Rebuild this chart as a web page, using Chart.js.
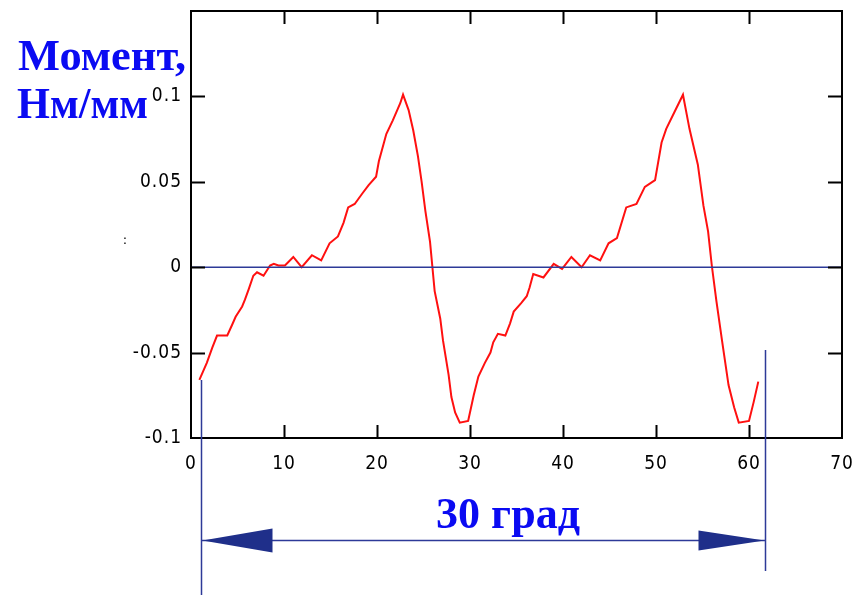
<!DOCTYPE html>
<html>
<head>
<meta charset="utf-8">
<script src="https://cdn.jsdelivr.net/npm/chart.js@4"></script>
<style>
	html, body { margin: 0; padding: 0; background: #fff; }
	#wrap { width: 859px; height: 595px; }
</style>
</head>
<body>
<div id="wrap"><canvas id="momentChart"></canvas></div>
<script>
// data block: angle (deg) and moment (Nm/mm)
const angles = [
	0.9, 1.7, 2.3, 2.8, 3.9, 4.4, 4.8, 5.5, 5.8, 6.2, 6.7, 7.1, 7.8, 8.5, 8.9, 9.4,
	10.1, 11.0, 11.9, 13.0, 14.0, 14.9, 15.8, 16.4, 16.9, 17.6, 18.4, 19.1, 19.9,
	20.2, 20.7, 21.0, 21.7, 22.5, 22.8, 23.4, 23.9, 24.4, 24.8, 25.2, 25.7, 26.2,
	26.8, 27.1, 27.7, 28.0, 28.4, 28.9, 29.8, 30.4, 30.9,
	31.6, 32.2, 32.5, 33.0, 33.8, 34.3, 34.7, 35.5, 36.1, 36.4, 36.8, 37.9, 39.0,
	39.9, 40.9, 42.0, 42.9, 44.0, 44.9, 45.8, 46.8, 47.9, 48.8, 49.9, 50.6, 51.1,
	52.0, 52.9, 53.6, 54.5, 55.1, 55.6, 56.0, 56.5, 57.1, 57.8, 58.4, 58.9, 60.0,
	60.5, 61.0,
];
const moments = [
	-0.066, -0.056, -0.047, -0.040, -0.040, -0.034, -0.029, -0.023, -0.019, -0.013,
	-0.005, -0.003, -0.005, 0.001, 0.002, 0.001,
	0.001, 0.006, 0.000, 0.007, 0.004, 0.014, 0.018, 0.026, 0.035, 0.037, 0.043,
	0.048, 0.053, 0.062, 0.072, 0.078, 0.086, 0.096, 0.101, 0.092, 0.080, 0.065,
	0.050, 0.033, 0.015, -0.014, -0.030, -0.043, -0.063, -0.076, -0.085, -0.091,
	-0.090, -0.075, -0.064,
	-0.056, -0.050, -0.044, -0.039, -0.040, -0.033, -0.026, -0.021, -0.017, -0.012,
	-0.004, -0.006, 0.002, -0.001, 0.006, 0.000, 0.007, 0.004, 0.014, 0.017, 0.035,
	0.037, 0.047, 0.051, 0.073, 0.081, 0.091, 0.101, 0.081, 0.060, 0.036, 0.021,
	0.001, -0.020, -0.043, -0.069, -0.082, -0.091, -0.090, -0.079, -0.067,
];
const zeroLineX = [0, 70];
const zeroLineY = [0, 0];
const xTicks = [0, 10, 20, 30, 40, 50, 60, 70];
const yTicks = [-0.1, -0.05, 0, 0.05, 0.1];
// span marked by the dimension arrow (one period)
const spanStart = 1.07;
const spanEnd = 61.7;
const spanLabel = '30 град';

const tickFont = { family: "'Liberation Sans Narrow', 'DejaVu Sans Condensed', sans-serif", size: 19 };
const blueLine = '#2d3a98';
const blueText = '#0a0af2';

// draw a bold serif string stretched to a given width
function wideText(ctx, text, x, y, width, align) {
	ctx.save();
	ctx.font = "bold 44px 'Liberation Serif', serif";
	const w = ctx.measureText(text).width;
	const sx = width / w;
	ctx.translate(align === 'center' ? x - width / 2 : x, y);
	ctx.scale(sx, 1);
	ctx.fillStyle = blueText;
	ctx.textBaseline = 'alphabetic';
	ctx.fillText(text, 0, 0);
	ctx.restore();
}

// frame, inward ticks and the annotations
const framePlugin = {
	id: 'frame',
	beforeDraw(chart) {
		chart.ctx.letterSpacing = '1px';
	},
	afterDraw(chart) {
		const ctx = chart.ctx;
		ctx.letterSpacing = '0px';
		const a = chart.chartArea;
		const xs = chart.scales.x;
		const ys = chart.scales.y;
		ctx.save();
		ctx.strokeStyle = '#000';
		ctx.lineWidth = 2;
		ctx.strokeRect(a.left, a.top, a.right - a.left, a.bottom - a.top);
		ctx.beginPath();
		xTicks.slice(1, -1).forEach((v) => {
			const px = Math.round(xs.getPixelForValue(v)) + 0.5;
			ctx.moveTo(px, a.bottom);
			ctx.lineTo(px, a.bottom - 13);
			ctx.moveTo(px, a.top);
			ctx.lineTo(px, a.top + 13);
		});
		yTicks.slice(1).forEach((v) => {
			const py = Math.round(ys.getPixelForValue(v)) + 0.5;
			ctx.moveTo(a.left, py);
			ctx.lineTo(a.left + 14, py);
			ctx.moveTo(a.right, py);
			ctx.lineTo(a.right - 14, py);
		});
		ctx.stroke();

		// dimension lines
		const x1 = Math.round(xs.getPixelForValue(spanStart)) + 0.5;
		const x2 = Math.round(xs.getPixelForValue(spanEnd)) + 0.5;
		const arrowY = 540.5;
		ctx.strokeStyle = blueLine;
		ctx.lineWidth = 1.5;
		ctx.beginPath();
		ctx.moveTo(x1, ys.getPixelForValue(moments[0]));
		ctx.lineTo(x1, chart.height);
		ctx.moveTo(x2, ys.getPixelForValue(-0.0485));
		ctx.lineTo(x2, 571);
		ctx.moveTo(x1, arrowY);
		ctx.lineTo(x2, arrowY);
		ctx.stroke();
		ctx.fillStyle = '#1f2f8a';
		ctx.beginPath();
		ctx.moveTo(x1 + 1, arrowY);
		ctx.lineTo(x1 + 71, arrowY - 12);
		ctx.lineTo(x1 + 71, arrowY + 12);
		ctx.closePath();
		ctx.moveTo(x2 - 1, arrowY);
		ctx.lineTo(x2 - 67, arrowY - 10);
		ctx.lineTo(x2 - 67, arrowY + 10);
		ctx.closePath();
		ctx.fill();

		ctx.fillStyle = '#000';
		ctx.font = "13px 'DejaVu Sans', sans-serif";
		ctx.textAlign = 'center';
		ctx.fillText(':', 125, 244);
		ctx.restore();

		wideText(ctx, 'Момент,', 18, 70, 168, 'left');
		wideText(ctx, 'Нм/мм', 17, 118, 131, 'left');
		wideText(ctx, spanLabel, 508, 528, 144, 'center');
	},
};

// config block
const config = {
	type: 'line',
	data: {
		datasets: [
			{
				label: 'zero',
				data: zeroLineX.map((x, i) => ({ x: x, y: zeroLineY[i] })),
				borderColor: blueLine,
				borderWidth: 1.5,
				pointRadius: 0,
			},
			{
				label: 'moment',
				data: angles.map((x, i) => ({ x: x, y: moments[i] })),
				borderColor: '#ff1010',
				borderWidth: 2,
				pointRadius: 0,
				tension: 0,
			},
		],
	},
	options: {
		responsive: true,
		maintainAspectRatio: false,
		animation: false,
		layout: { padding: { left: 0, right: 17, top: 11, bottom: 0 } },
		plugins: { legend: { display: false }, tooltip: { enabled: false } },
		scales: {
			x: {
				type: 'linear',
				min: 0,
				max: 70,
				grid: { display: false, drawTicks: false },
				border: { display: false },
				afterBuildTicks: (s) => { s.ticks = xTicks.map((v) => ({ value: v })); },
				afterFit: (s) => { s.height = 157; s.paddingLeft = 0; s.paddingRight = 0; },
				ticks: { color: '#000', font: tickFont, padding: 15, maxRotation: 0 },
			},
			y: {
				type: 'linear',
				min: -0.1,
				max: 0.15,
				grid: { display: false, drawTicks: false },
				border: { display: false },
				afterBuildTicks: (s) => { s.ticks = yTicks.map((v) => ({ value: v })); },
				afterFit: (s) => { s.width = 191; s.paddingTop = 0; s.paddingBottom = 0; },
				ticks: {
					color: '#000',
					font: tickFont,
					padding: 9,
					callback: (v) => (Math.abs(v) < 1e-9 ? '0' : String(+v.toFixed(2))),
				},
			},
		},
	},
	plugins: [framePlugin],
};

// render / init block
const momentChart = new Chart(document.getElementById('momentChart'), config);
</script>
</body>
</html>
